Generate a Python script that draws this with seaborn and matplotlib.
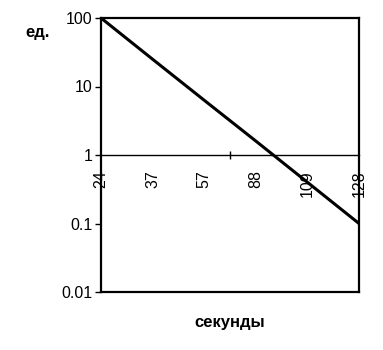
import numpy as np
import matplotlib
matplotlib.use("Agg")
import matplotlib.pyplot as plt
import seaborn as sns

# Data
categories = ["24", "37", "57", "88", "109", "128"]
values = [100, 25, 6.3, 1.6, 0.4, 0.1]
y_ticks = [0.01, 0.1, 1, 10, 100]
y_tick_labels = ["0.01", "0.1", "1", "10", "100"]

sns.set_theme(style="white")
plt.rcParams['font.family'] = ['Liberation Sans', 'DejaVu Sans']
plt.rcParams['text.color'] = 'black'
plt.rcParams['xtick.color'] = 'black'
plt.rcParams['ytick.color'] = 'black'

fig = plt.figure(figsize=(3.83, 3.5), dpi=100)
ax = fig.add_axes([101/383, 1-292/350, (359-101)/383, (292-18)/350])

pos = np.arange(len(categories))
sns.lineplot(x=pos, y=values, ax=ax, color="black", linewidth=2.2)

ax.set_yscale("log")
ax.set_ylim(0.01, 100)
ax.set_xlim(0, len(categories) - 1)
ax.set_yticks(y_ticks)
ax.set_yticklabels(y_tick_labels)
ax.yaxis.set_minor_locator(matplotlib.ticker.NullLocator())
ax.tick_params(axis="y", which="major", direction="out", length=4, width=1,
               color="black", labelsize=11.5, pad=2, left=True, labelcolor="black")
ax.set_xticks([])
ax.set_xlabel("")
ax.set_ylabel("")

for s in ax.spines.values():
    s.set_color("black")
    s.set_linewidth(1.6)

# x-axis crossing at y=1 (middle of the log range)
sec = ax.secondary_xaxis(0.5)
sec.xaxis.tick_bottom()
sec.set_xticks(pos)
sec.set_xticklabels(categories, rotation=90, fontsize=11.5, color="black", va="top")
sec.set_xticks([2.5], minor=True)
sec.tick_params(axis="x", which="major", length=0, pad=11,
                labelbottom=True, labeltop=False, bottom=True, top=False)
sec.tick_params(axis="x", which="minor", length=6, direction="inout", width=1,
                color="black", bottom=True, top=False)
for s in sec.spines.values():
    s.set_color("black")
    s.set_linewidth(1.0)

fig.text(38/383, 1-33/350, "ед.", fontsize=12, fontweight="bold", ha="center", va="center")
fig.text(230/383, 1-323/350, "секунды", fontsize=12, fontweight="bold", ha="center", va="center")

fig.savefig("out.png", dpi=100)
